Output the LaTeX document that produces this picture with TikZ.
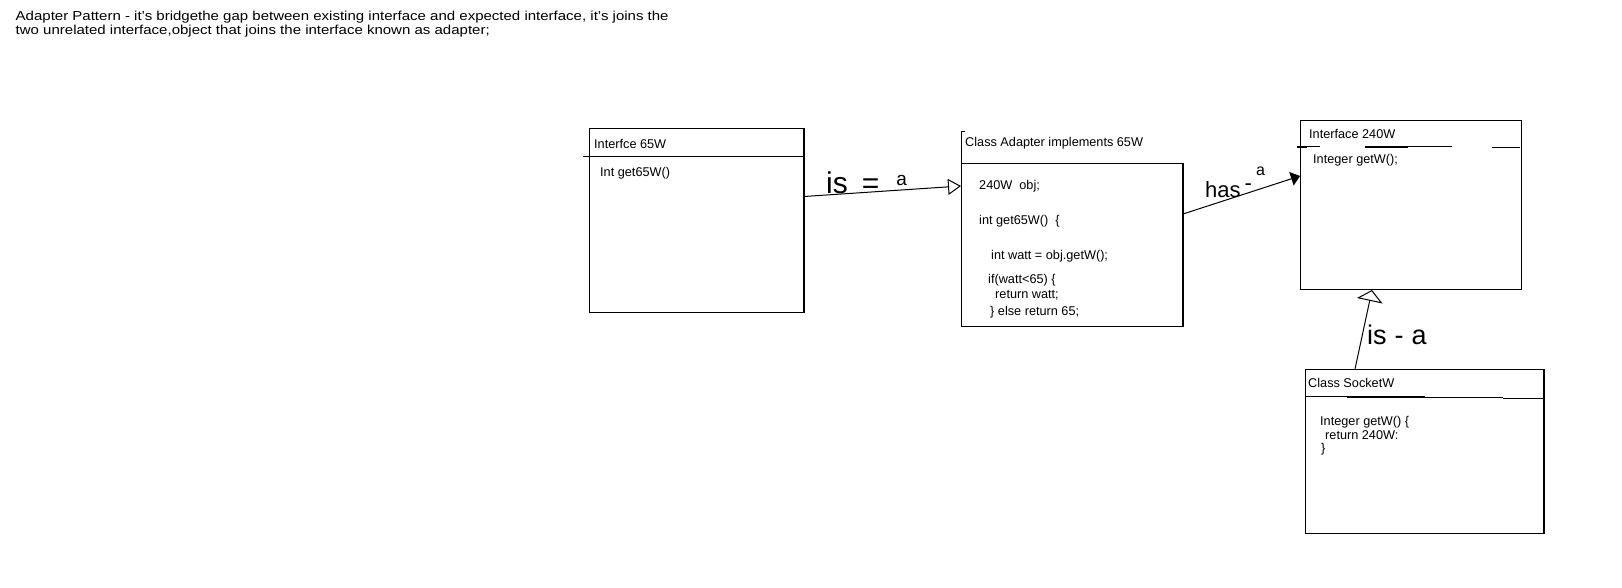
\documentclass[tikz,border=0pt]{standalone}
\usepackage{fontspec}
\setmainfont{Liberation Sans}
\usetikzlibrary{arrows.meta}
\begin{document}
\begin{tikzpicture}[x=1pt,y=-1pt,
  txt/.style={inner sep=0pt, anchor=west, font=\fontsize{12.7}{14}\selectfont},
  boxn/.style={draw=black, line width=1pt, inner sep=0pt, anchor=north west},
  thickedge/.style={line width=2pt},
  conn/.style={line width=1pt, black},
  hand/.style={inner sep=0pt, anchor=base west},
  openhead/.style={-{Triangle[open,length=13pt,width=16pt,line width=1pt]}},
  fillhead/.style={-{Triangle[length=9pt,width=14pt]}},
  umbrella/.style={-{Triangle[open,length=11pt,width=26pt,line width=1pt]}}
]
\fill[white] (0,0) rectangle (1622,588);
\useasboundingbox (0,0) rectangle (1622,588);

% title
\node[inner sep=0pt, anchor=north west, font=\fontsize{13}{12.7}\selectfont] (title) at (15.5,10.6)
  {\scalebox{1.155}[1]{\begin{tabular}{@{}l@{}}Adapter Pattern - it's bridgethe gap between existing interface and expected interface, it's joins the\\[0.8pt]
   two unrelated interface,object that joins the interface known as adapter;\end{tabular}}};

% box 1
\node[boxn, minimum width=214pt, minimum height=184pt] (b1) at (589,128) {};
\draw[thickedge] (b1.north east) -- (b1.south east);
\draw[line width=1pt] (583,157) -- (803,157);
\node[txt] (b1h) at (594,143.5) {Interfce 65W};
\node[txt] (b1m) at (600,173.5) {Int get65W()};

% box 2
\node[boxn, minimum width=221pt, minimum height=163pt] (b2) at (961,163) {};
\draw[thickedge] (b2.north east) -- (b2.south east);
\draw[line width=1pt] (b2.north west) -- (961,132) -- (964.5,132);
\node[txt] (b2h) at (965,143.5) {Class Adapter implements 65W};
\node[txt] (b2a) at (979,186) {240W\ \ obj;};
\node[txt] (b2b) at (979,221) {int get65W()\ \ \{};
\node[txt] (b2c) at (991,256.5) {int watt = obj.getW();};
\node[txt] (b2d) at (988,280) {if(watt<65) \{};
\node[txt] (b2e) at (995,295) {return watt;};
\node[txt] (b2f) at (990,312) {\} else return 65;};

% box 3
\node[boxn, minimum width=221pt, minimum height=169pt] (b3) at (1300,120) {};
\draw[line width=2pt] (1297,147) -- (1307,147);
\draw[line width=1pt] (1307,147) -- (1320,147);
\draw[line width=2pt] (1365,147) -- (1408,147);
\draw[line width=1pt] (1408,147) -- (1452,147);
\draw[line width=1pt] (1492,148) -- (1520,148);
\node[txt] (b3h) at (1309,133.5) {Interface 240W};
\node[txt] (b3m) at (1313,160) {Integer getW();};

% box 4
\node[boxn, minimum width=238pt, minimum height=164pt] (b4) at (1305,369) {};
\draw[thickedge] (b4.north east) -- (b4.south east);
\draw[line width=1pt] (1306,396) -- (1347,396);
\draw[line width=2pt] (1347,396.5) -- (1425,396.5);
\draw[line width=1pt] (1425,397) -- (1503,397) (1503,398) -- (1543,398);
\node[txt] (b4h) at (1308,382.5) {Class SocketW};
\node[txt] (b4a) at (1320,422) {Integer getW() \{};
\node[txt] (b4b) at (1325,435) {return 240W:};
\node[txt] (b4c) at (1321,449) {\}};

% connectors
\coordinate (p1) at ([yshift=-68.5pt]b1.north east);
\coordinate (q1) at ([yshift=-23pt]b2.north west);
\draw[conn, openhead] (p1) -- (q1);
\coordinate (p2) at ([yshift=-51pt]b2.north east);
\coordinate (q2) at ([yshift=-56pt]b3.north west);
\draw[conn, fillhead] (p2) -- (q2);
\coordinate (p3) at ([xshift=50pt]b4.north west);
\coordinate (q3) at ([xshift=72pt]b3.south west);
\draw[conn, umbrella] (p3) -- (q3);

% handwritten labels
\node[hand] (l1) at (826,194) {\fontsize{30}{30}\selectfont is\hspace{14pt}=\hspace{17pt}\raisebox{9pt}{\fontsize{19}{19}\selectfont a}};
\node[hand] (l2) at (1205,197) {\fontsize{22}{22}\selectfont has\hspace{4pt}\raisebox{6pt}{-}\hspace{4pt}\raisebox{21pt}{\fontsize{16}{16}\selectfont a}};
\node[hand] (l3) at (1367,344) {\fontsize{27}{27}\selectfont is\hspace{8pt}-\hspace{8pt}a};
\end{tikzpicture}
\end{document}
